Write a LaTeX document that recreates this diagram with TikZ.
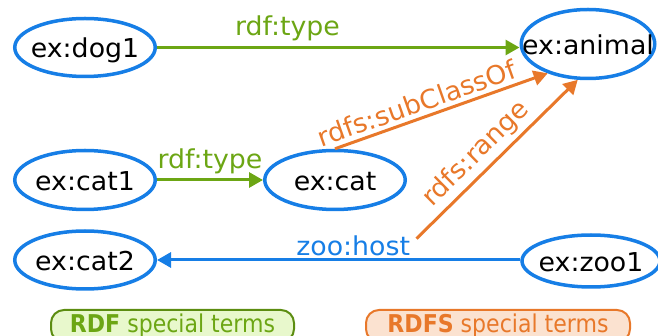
\documentclass[tikz,border=0pt]{standalone}
\usepackage{fontspec}
\setmainfont{DejaVu Sans}[FakeStretch=1.03]
\newfontfamily\legfont{DejaVu Sans}[FakeStretch=0.9]
\usetikzlibrary{arrows.meta,shapes.geometric,calc}
\definecolor{nodeblue}{RGB}{22,126,230}
\definecolor{rdfgreen}{RGB}{108,166,20}
\definecolor{rdfsorange}{RGB}{232,120,42}
\definecolor{greenfill}{RGB}{232,248,204}
\definecolor{orangefill}{RGB}{251,226,208}
\tikzset{
  res/.style={ellipse, draw=nodeblue, line width=3.5pt, inner sep=0pt,
    text height=21pt, text depth=0pt, font=\fontsize{26}{30}\selectfont},
  elabel/.style={inner sep=2pt, font=\fontsize{26}{30}\selectfont},
  rdfedge/.style={draw=rdfgreen, line width=3pt, -{Triangle[length=14pt,width=15pt]}},
  rdfsedge/.style={draw=rdfsorange, line width=3pt, -{Triangle[length=14pt,width=15pt]}},
  hostedge/.style={draw=nodeblue, line width=3pt, -{Triangle[length=14pt,width=15pt]}},
  legendbox/.style={rounded corners=13pt, line width=2pt, minimum height=32pt,
    font=\legfont\fontsize{24.5}{28}\selectfont}
}
\begin{document}
\begin{tikzpicture}[x=1pt,y=-1pt]
\useasboundingbox (0,0) rectangle (658,336);
\clip (0,0) rectangle (658,336);
% resources
\node[res, minimum width=140.5pt, minimum height=58pt] (dog1) at (85,47.5) {\makebox[0pt]{ex:dog1}};
\node[res, minimum width=133.5pt, minimum height=69pt] (animal) at (588,44) {\makebox[0pt]{ex:animal}};
\node[res, minimum width=140.5pt, minimum height=59pt] (cat1) at (85,180) {\makebox[0pt]{ex:cat1}};
\node[res, minimum width=140.5pt, minimum height=59pt] (cat) at (335,180) {\makebox[0pt]{ex:cat}};
\node[res, minimum width=140.5pt, minimum height=58pt] (cat2) at (85,260) {\makebox[0pt]{ex:cat2}};
\node[res, minimum width=138pt, minimum height=52pt] (zoo1) at (591,261) {\makebox[0pt]{ex:zoo1}};
% RDF edges
\draw[rdfedge] (dog1.east) -- (animal.west |- dog1.east)
  node[elabel, pos=0.36, above=3pt, text=rdfgreen] {rdf:type};
\draw[rdfedge] (cat1.east) -- (cat.west)
  node[elabel, midway, above=3pt, text=rdfgreen] {rdf:type};
% host edge
\draw[hostedge] (zoo1.west |- cat2.east) -- (cat2.east)
  node[elabel, pos=0.46, above=1pt, text=nodeblue] (zh) {zoo:host};
% RDFS edges
\draw[rdfsedge] (cat.north) -- (animal.-144)
  node[elabel, pos=0.41, sloped, above=2pt, text=rdfsorange] {rdfs:subClassOf};
\coordinate (rs) at ($(zh.east)!0.5!(zh.north east)+(3,0)$);
\draw[rdfsedge] (rs) -- (animal.-106)
  node[elabel, pos=0.45, sloped, above=2pt, text=rdfsorange] {rdfs:range};
% legend
\node[legendbox, draw=rdfgreen!85!black, fill=greenfill, text=rdfgreen, minimum width=243pt] (rdfleg) at (172.5,326)
  {\textbf{RDF} special terms};
\node[legendbox, draw=rdfsorange, fill=orangefill, text=rdfsorange, minimum width=264pt] (rdfsleg) at (498,326)
  {\textbf{RDFS} special terms};
\end{tikzpicture}
\end{document}
